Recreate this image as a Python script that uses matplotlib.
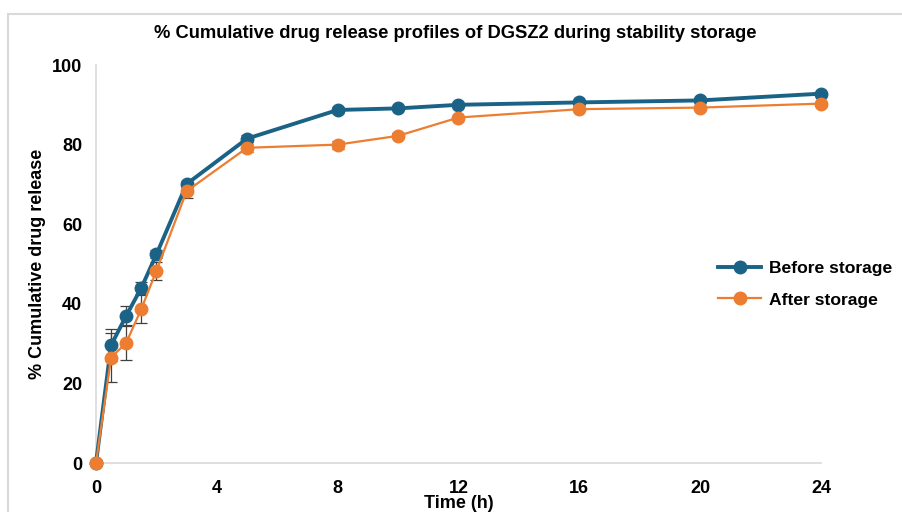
import matplotlib
matplotlib.use("Agg")
import matplotlib.pyplot as plt
from matplotlib.patches import Rectangle

time_h = [0, 0.5, 1, 1.5, 2, 3, 5, 8, 10, 12, 16, 20, 24]
before = [0, 29.6, 37.0, 44.0, 52.4, 70.1, 81.5, 88.7, 89.1, 90.0, 90.6, 91.1, 92.8]
before_err = [0, 4.0, 2.4, 1.5, 1.0, 0.8, 0.8, 0.8, 0.5, 0.5, 0.5, 0.5, 0.5]
after = [0, 26.5, 30.2, 38.7, 48.3, 68.3, 79.2, 80.0, 82.2, 86.8, 88.9, 89.3, 90.3]
after_err = [0, 6.2, 4.3, 3.4, 2.3, 1.8, 1.0, 1.0, 0.6, 0.5, 0.5, 0.5, 0.5]
x_ticks = [0, 4, 8, 12, 16, 20, 24]
y_ticks = [0, 20, 40, 60, 80, 100]

plt.rcParams['font.family'] = ['Liberation Sans', 'DejaVu Sans']

blue = "#1B6386"
orange = "#ED7D31"

fig = plt.figure(figsize=(9.03, 5.12), dpi=100)
fig.patches.append(Rectangle((8/903, -0.1), 1.2, 1 - 14/512 + 0.1, transform=fig.transFigure,
                             fill=False, edgecolor="#D9D9D9", linewidth=1.5))
ax = fig.add_axes([96/903, 1 - 463/512, (821 - 96)/903, (463 - 65)/512])

ax.errorbar(time_h, before, yerr=before_err, fmt='none', ecolor="#404040", elinewidth=0.9,
            capsize=4, capthick=0.9, zorder=2)
ax.errorbar(time_h, after, yerr=after_err, fmt='none', ecolor="#404040", elinewidth=0.9,
            capsize=4, capthick=0.9, zorder=2)
ax.plot(time_h, before, color=blue, lw=2.8, marker='o', ms=9, label="Before storage", zorder=3)
ax.plot(time_h, after, color=orange, lw=1.6, marker='o', ms=9, label="After storage", zorder=4)

ax.set_xlim(0, 24)
ax.set_ylim(0, 100)
ax.set_xticks(x_ticks)
ax.set_yticks(y_ticks)
ax.tick_params(length=0, labelsize=13)
ax.tick_params(axis='x', pad=12)
ax.tick_params(axis='y', pad=10)
for lbl in ax.get_xticklabels() + ax.get_yticklabels():
    lbl.set_fontweight('bold')
for s in ['top', 'right']:
    ax.spines[s].set_visible(False)
for s in ['left', 'bottom']:
    ax.spines[s].set_color("#D9D9D9")
    ax.spines[s].set_linewidth(1.2)
for l in ax.lines:
    l.set_clip_on(False)

ax.set_xlabel("Time (h)", fontsize=13, fontweight='bold', labelpad=-1)
ax.set_ylabel("% Cumulative drug release", fontsize=13, fontweight='bold', labelpad=4)
fig.text(455/903, 1 - 33/512, "% Cumulative drug release profiles of DGSZ2 during stability storage",
         ha='center', va='center', fontsize=13.2, fontweight='bold')

leg = ax.legend(loc='center left', bbox_to_anchor=(702/903, 1 - 284/512), bbox_transform=fig.transFigure,
                frameon=False, prop={'weight': 'bold', 'size': 12.6}, handlelength=2.5,
                handletextpad=0.45, labelspacing=0.95)

fig.savefig("out.png", dpi=100)
